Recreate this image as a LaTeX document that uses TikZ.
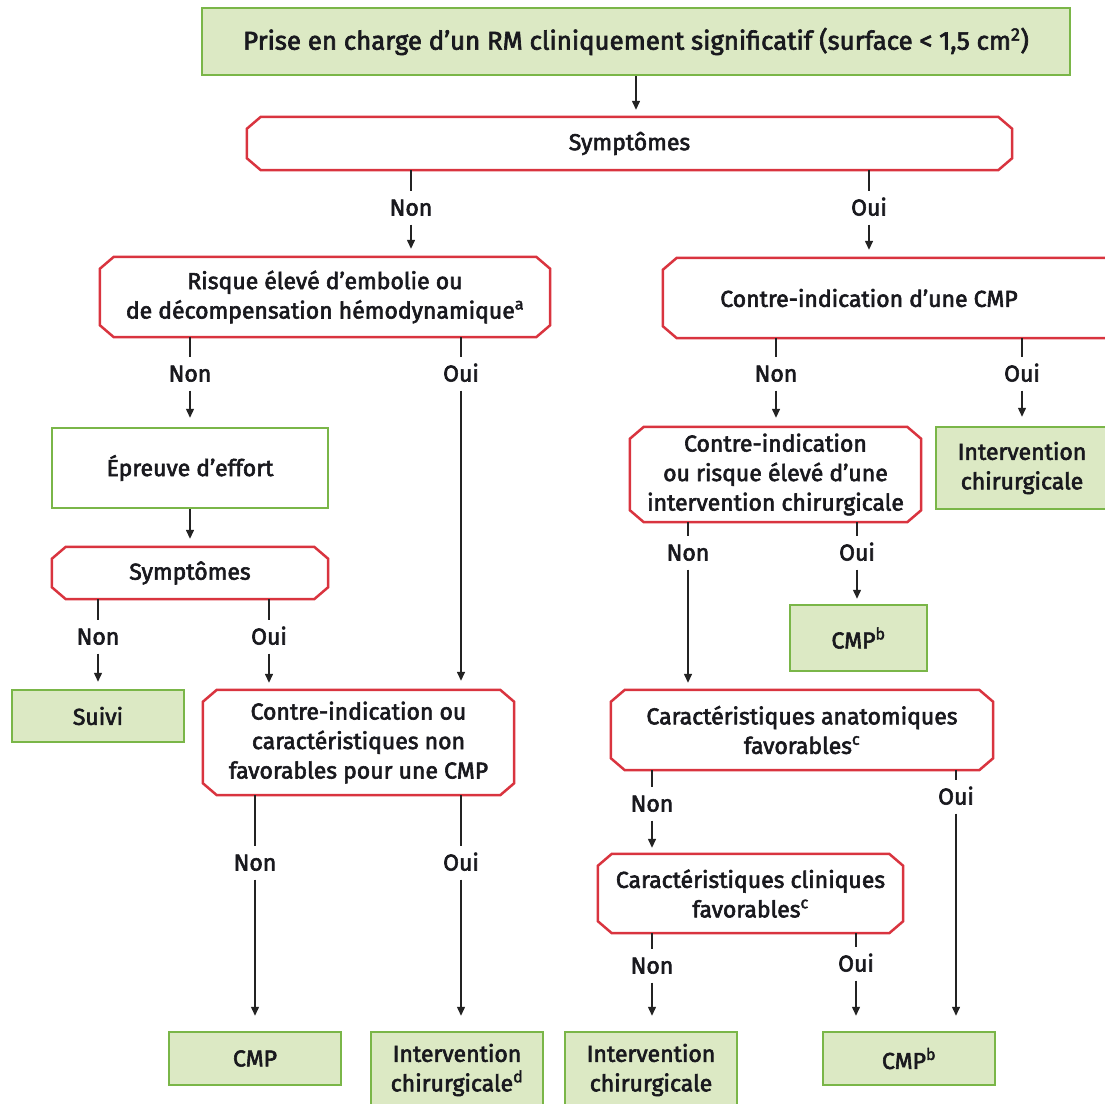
\documentclass[tikz,border=0pt]{standalone}
\usepackage{fontspec}
\setmainfont{Fira Sans}[RawFeature={embolden=2.6}]
\usetikzlibrary{arrows.meta, calc}

\definecolor{gborder}{RGB}{122,182,72}
\definecolor{gfill}{RGB}{220,233,196}
\definecolor{rborder}{RGB}{217,52,63}
\definecolor{lcol}{RGB}{35,35,35}
\definecolor{tcol}{RGB}{25,25,30}

% chamfered outline round a node, optional extra length to the right
\newcommand{\chamf}[2][0]{%
  \draw[rline] ($(#2.north west)+(14,0)$) -- ($(#2.north east)+(#1-14,0)$)
    -- ($(#2.north east)+(#1,12)$) -- ($(#2.south east)+(#1,-12)$)
    -- ($(#2.south east)+(#1-14,0)$) -- ($(#2.south west)+(14,0)$)
    -- ($(#2.south west)+(0,-12)$) -- ($(#2.north west)+(0,12)$) -- cycle;}

\begin{document}
\begin{tikzpicture}[x=1pt,y=1pt,yscale=-1,xscale=1,
  every node/.style={font=\fontsize{23}{29.5}\selectfont, text=tcol},
  gbox/.style={draw=gborder, fill=gfill, line width=2.5pt, align=center, inner sep=0pt},
  gwbox/.style={gbox, fill=white},
  rbox/.style={align=center, inner sep=0pt},
  rline/.style={draw=rborder, line width=2.5pt, line join=miter},
  lbl/.style={inner xsep=2pt, inner ysep=9pt, text height=15pt, text depth=0pt},
  ln/.style={draw=lcol, line width=1.4pt},
  arr/.style={ln, -{Triangle[length=9pt,width=8pt]}}]
\useasboundingbox (0,0) rectangle (1105,1103);
\clip (0,0) rectangle (1105,1103);

% Text Node
\node [gbox, minimum width=868, minimum height=67, font=\fontsize{25.8}{29.5}\selectfont] (top) at (636,41.5) {Prise en charge d’un RM cliniquement significatif (surface < 1,5 cm\textsuperscript{2})};
% Text Node
\node [rbox, minimum width=765, minimum height=53] (symp) at (629.5,143.5) {Symptômes};
% Text Node
\node [rbox, minimum width=450, minimum height=80] (risk) at (325,297) {Risque élevé d’embolie ou\\de décompensation hémodynamique\textsuperscript{a}};
% Text Node
\node [rbox, minimum width=412, minimum height=80] (cicmp) at (869,298) {Contre-indication d’une CMP};
% Text Node
\node [gwbox, minimum width=276, minimum height=80] (effort) at (190,468) {Épreuve d’effort};
% Text Node
\node [rbox, minimum width=276, minimum height=52] (symp2) at (190,573) {Symptômes};
% Text Node
\node [gbox, minimum width=172, minimum height=52] (suivi) at (98,716) {Suivi};
% Text Node
\node [rbox, minimum width=311, minimum height=105] (cinf) at (358.5,742.5) {Contre-indication ou\\caractéristiques non\\favorables pour une CMP};
% Text Node
\node [rbox, minimum width=291, minimum height=95] (cirisk) at (775.5,474.5) {Contre-indication\\ou risque élevé d’une\\intervention chirurgicale};
% Text Node
\node [gbox, minimum width=172, minimum height=82] (ic1) at (1022,468) {Intervention\\chirurgicale};
% Text Node
\node [gbox, minimum width=137, minimum height=66] (cmpb1) at (858.5,638) {CMP\textsuperscript{b}};
% Text Node
\node [rbox, minimum width=382, minimum height=80] (anat) at (802,730) {Caractéristiques anatomiques\\favorables\textsuperscript{c}};
% Text Node
\node [rbox, minimum width=305, minimum height=79] (clin) at (750.5,893.5) {Caractéristiques cliniques\\favorables\textsuperscript{c}};
% Text Node
\node [gbox, minimum width=172, minimum height=53] (cmp1) at (255,1058.5) {CMP};
% Text Node
\node [gbox, minimum width=172, minimum height=76] (icd) at (457,1070) {Intervention\\chirurgicale\textsuperscript{d}};
% Text Node
\node [gbox, minimum width=172, minimum height=76] (ic2) at (651,1070) {Intervention\\chirurgicale};
% Text Node
\node [gbox, minimum width=172, minimum height=53] (cmpb2) at (909,1058.5) {CMP\textsuperscript{b}};

%Shape: chamfered outlines
\foreach \n in {symp, risk, symp2, cinf, cirisk, anat, clin} {\chamf{\n}}
\chamf[45]{cicmp}

% Text Node: Non / Oui
\node [lbl] (n1) at (411,208) {Non};
\node [lbl] (o1) at (869,208) {Oui};
\node [lbl] (n2) at (190,374) {Non};
\node [lbl] (o2) at (461,374) {Oui};
\node [lbl] (n3) at (776,374) {Non};
\node [lbl] (o3) at (1022,374) {Oui};
\node [lbl] (n4) at (98,637) {Non};
\node [lbl] (o4) at (269,637) {Oui};
\node [lbl] (n5) at (255,863) {Non};
\node [lbl] (o5) at (461,863) {Oui};
\node [lbl] (n6) at (688,553) {Non};
\node [lbl] (o6) at (857,553) {Oui};
\node [lbl] (n7) at (652,804) {Non};
\node [lbl] (o7) at (956,797) {Oui};
\node [lbl] (n8) at (652,966) {Non};
\node [lbl] (o8) at (856,964) {Oui};

%Straight Lines
\draw [arr, shorten >=7pt] (top) -- (symp.north -| top);
\draw [arr, shorten >=8pt] (effort) -- (symp2.north -| effort);
\foreach \a/\l/\b/\s in {symp/n1/risk/8, symp/o1/cicmp/8, risk/n2/effort/9, risk/o2/cinf/9,
    cicmp/n3/cirisk/9, cicmp/o3/ic1/9, symp2/n4/suivi/7, symp2/o4/cinf/7,
    cinf/n5/cmp1/15, cinf/o5/icd/15, cirisk/n6/anat/7, cirisk/o6/cmpb1/5,
    anat/n7/clin/6, anat/o7/cmpb2/15, clin/n8/ic2/15, clin/o8/cmpb2/15} {
  \draw [ln] (\a.south -| \l) -- (\l);
  \draw [arr, shorten >=\s pt] (\l) -- (\b.north -| \l);
}

\end{tikzpicture}
\end{document}
